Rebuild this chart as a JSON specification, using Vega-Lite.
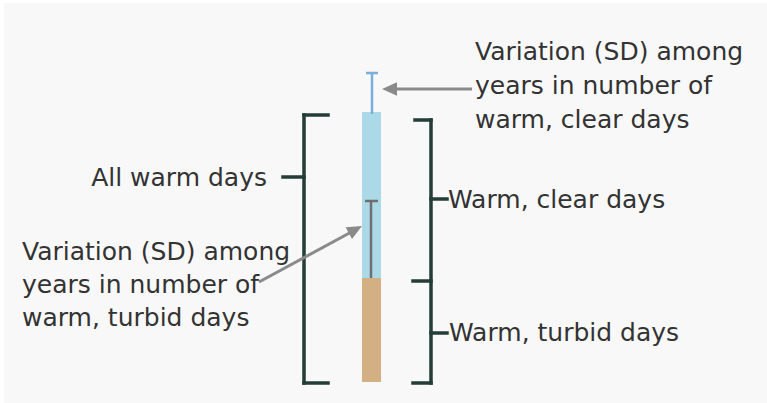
{
  "$schema": "https://vega.github.io/schema/vega-lite/v6.json",
  "width": 767,
  "height": 403,
  "autosize": {"type": "fit", "contains": "padding"},
  "padding": 0,
  "background": "#ffffff",
  "config": {"view": {"stroke": null}},
  "datasets": {
    "panel": [{"x1": 4, "x2": 767, "y1": 3, "y2": 403}],
    "bars": [
      {"part": "Warm, clear days", "x1": 362, "x2": 381, "y1": 112, "y2": 278},
      {"part": "Warm, turbid days", "x1": 362, "x2": 381, "y1": 278, "y2": 382}
    ],
    "segs": [
      {"group": "sd_clear", "x1": 372, "y1": 73, "x2": 372, "y2": 114},
      {"group": "sd_clear", "x1": 366, "y1": 73, "x2": 378, "y2": 73},
      {"group": "sd_turbid", "x1": 371, "y1": 201, "x2": 371, "y2": 278},
      {"group": "sd_turbid", "x1": 365, "y1": 201, "x2": 378, "y2": 201},
      {"group": "bracket", "x1": 304, "y1": 115, "x2": 328, "y2": 115},
      {"group": "bracket", "x1": 304, "y1": 115, "x2": 304, "y2": 383},
      {"group": "bracket", "x1": 304, "y1": 383, "x2": 328, "y2": 383},
      {"group": "bracket", "x1": 283, "y1": 177, "x2": 304, "y2": 177},
      {"group": "bracket", "x1": 415, "y1": 120, "x2": 431, "y2": 120},
      {"group": "bracket", "x1": 431, "y1": 120, "x2": 431, "y2": 383},
      {"group": "bracket", "x1": 413, "y1": 281, "x2": 431, "y2": 281},
      {"group": "bracket", "x1": 413, "y1": 383, "x2": 431, "y2": 383},
      {"group": "bracket", "x1": 431, "y1": 199, "x2": 447, "y2": 199},
      {"group": "bracket", "x1": 431, "y1": 333, "x2": 447, "y2": 333},
      {"group": "arrow", "x1": 472, "y1": 89, "x2": 390, "y2": 89},
      {"group": "arrow", "x1": 259, "y1": 282, "x2": 355, "y2": 230}
    ],
    "heads": [
      {"arrow": "top", "x": 382, "y": 89},
      {"arrow": "lower", "x": 362, "y": 226}
    ],
    "labels": [
      {"label": "Variation (SD) among", "x": 475, "y": 52, "align": "left"},
      {"label": "years in number of", "x": 475, "y": 86, "align": "left"},
      {"label": "warm, clear days", "x": 475, "y": 120, "align": "left"},
      {"label": "All warm days", "x": 267, "y": 178, "align": "right"},
      {"label": "Warm, clear days", "x": 448, "y": 200, "align": "left"},
      {"label": "Warm, turbid days", "x": 449, "y": 333, "align": "left"},
      {"label": "Variation (SD) among", "x": 22, "y": 252, "align": "left"},
      {"label": "years in number of", "x": 22, "y": 285, "align": "left"},
      {"label": "warm, turbid days", "x": 22, "y": 318, "align": "left"}
    ]
  },
  "encoding": {
    "x": {"field": "x1", "type": "quantitative", "scale": {"domain": [0, 767]}, "axis": null},
    "y": {"field": "y1", "type": "quantitative", "scale": {"domain": [0, 403], "reverse": true}, "axis": null}
  },
  "layer": [
    {
      "data": {"name": "panel"},
      "mark": {"type": "rect", "fill": "#f8f8f8"},
      "encoding": {"x2": {"field": "x2"}, "y2": {"field": "y2"}}
    },
    {
      "data": {"name": "bars"},
      "mark": {"type": "rect"},
      "encoding": {
        "x2": {"field": "x2"},
        "y2": {"field": "y2"},
        "color": {"field": "part", "type": "nominal", "scale": {"domain": ["Warm, clear days", "Warm, turbid days"], "range": ["#acd9e8", "#d2b083"]}, "legend": null}
      }
    },
    {
      "data": {"name": "segs"},
      "transform": [{"filter": "datum.group === 'sd_clear'"}],
      "mark": {"type": "rule", "stroke": "#7aaedb", "strokeWidth": 2.5},
      "encoding": {"x2": {"field": "x2"}, "y2": {"field": "y2"}}
    },
    {
      "data": {"name": "segs"},
      "transform": [{"filter": "datum.group === 'sd_turbid'"}],
      "mark": {"type": "rule", "stroke": "#6f6f6f", "strokeWidth": 2.5},
      "encoding": {"x2": {"field": "x2"}, "y2": {"field": "y2"}}
    },
    {
      "data": {"name": "segs"},
      "transform": [{"filter": "datum.group === 'bracket'"}],
      "mark": {"type": "rule", "stroke": "#253d37", "strokeWidth": 3.5, "strokeCap": "square"},
      "encoding": {"x2": {"field": "x2"}, "y2": {"field": "y2"}}
    },
    {
      "data": {"name": "segs"},
      "transform": [{"filter": "datum.group === 'arrow'"}],
      "mark": {"type": "rule", "stroke": "#8a8a8a", "strokeWidth": 3},
      "encoding": {"x2": {"field": "x2"}, "y2": {"field": "y2"}}
    },
    {
      "data": {"name": "heads"},
      "transform": [{"filter": "datum.arrow === 'top'"}],
      "mark": {"type": "point", "shape": "M0,0 L-1,-0.45 L-1,0.45 Z", "size": 900, "filled": true, "fill": "#8a8a8a", "opacity": 1, "strokeWidth": 0, "angle": 180},
      "encoding": {"x": {"field": "x", "type": "quantitative"}, "y": {"field": "y", "type": "quantitative"}}
    },
    {
      "data": {"name": "heads"},
      "transform": [{"filter": "datum.arrow === 'lower'"}],
      "mark": {"type": "point", "shape": "M0,0 L-1,-0.45 L-1,0.45 Z", "size": 900, "filled": true, "fill": "#8a8a8a", "opacity": 1, "strokeWidth": 0, "angle": 331.7},
      "encoding": {"x": {"field": "x", "type": "quantitative"}, "y": {"field": "y", "type": "quantitative"}}
    },
    {
      "data": {"name": "labels"},
      "transform": [{"filter": "datum.align === 'left'"}],
      "mark": {"type": "text", "align": "left", "baseline": "middle", "font": "DejaVu Sans", "fontSize": 25, "fill": "#333333"},
      "encoding": {"x": {"field": "x", "type": "quantitative"}, "y": {"field": "y", "type": "quantitative"}, "text": {"field": "label"}}
    },
    {
      "data": {"name": "labels"},
      "transform": [{"filter": "datum.align === 'right'"}],
      "mark": {"type": "text", "align": "right", "baseline": "middle", "font": "DejaVu Sans", "fontSize": 25, "fill": "#333333"},
      "encoding": {"x": {"field": "x", "type": "quantitative"}, "y": {"field": "y", "type": "quantitative"}, "text": {"field": "label"}}
    }
  ]
}
